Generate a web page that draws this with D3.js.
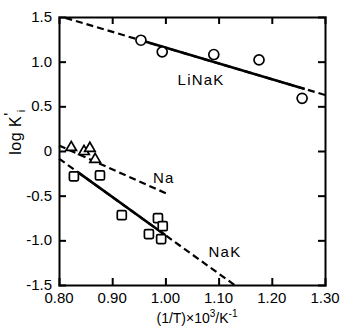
<!DOCTYPE html>
<html><head><meta charset="utf-8">
<script src="https://cdn.jsdelivr.net/npm/d3@7"></script>
<style>body{margin:0;background:#fff}svg{display:block}text{font-family:"Liberation Sans",Arial,sans-serif;fill:#000}</style>
</head><body>
<script>
// Data
const xTicks = [0.80, 0.90, 1.00, 1.10, 1.20, 1.30];
const yTicks = [1.5, 1.0, 0.5, 0, -0.5, -1.0, -1.5];
const liNaKx = [0.954, 0.994, 1.091, 1.176, 1.257];
const liNaKy = [1.24, 1.11, 1.08, 1.02, 0.59];
const naX = [0.823, 0.847, 0.858, 0.868];
const naY = [0.04, -0.005, 0.03, -0.094];
const naKx = [0.828, 0.877, 0.918, 0.986, 0.995, 0.969, 0.992];
const naKy = [-0.284, -0.273, -0.718, -0.752, -0.841, -0.930, -0.986];
// fitted lines: [x0, y0, x1, y1]
const liNaKDash = [0.812, 1.49, 1.30, 0.627];
const liNaKSolid = [0.954, 1.24, 1.262, 0.694];
const naDash = [0.80, 0.062, 1.005, -0.484];
const naKDash = [0.80, -0.085, 1.130, -1.50];
const naKSolid = [0.836, -0.239, 0.999, -0.938];
const labels = [{t:"LiNaK", x:1.067, y:0.742}, {t:"Na", x:0.997, y:-0.362}, {t:"NaK", x:1.112, y:-1.19}];

const W = 345, H = 328;
const m = {l:59, r:20, t:17, b:43};
const svg = d3.select("body").append("svg").attr("width", W).attr("height", H);
const x = d3.scaleLinear().domain([0.80, 1.30]).range([m.l, W - m.r]);
const y = d3.scaleLinear().domain([-1.5, 1.5]).range([H - m.b, m.t]);

const inner = [0.90, 1.00, 1.10, 1.20];
const innerY = [1.0, 0.5, 0, -0.5, -1.0];
// axes
const gB = svg.append("g").attr("transform", `translate(0,${y(-1.5)})`)
  .call(d3.axisBottom(x).tickValues(inner).tickSize(-7).tickFormat(""));
const gT = svg.append("g").attr("transform", `translate(0,${y(1.5)})`)
  .call(d3.axisTop(x).tickValues(inner).tickSize(-7).tickFormat(""));
const gL = svg.append("g").attr("transform", `translate(${x(0.8)},0)`)
  .call(d3.axisLeft(y).tickValues(innerY).tickSize(-7).tickFormat(""));
const gR = svg.append("g").attr("transform", `translate(${x(1.3)},0)`)
  .call(d3.axisRight(y).tickValues(innerY).tickSize(-7).tickFormat(""));
[gB, gT, gL, gR].forEach(g => {
  g.select(".domain").attr("stroke", "#000").attr("stroke-width", 2);
  g.selectAll(".tick line").attr("stroke", "#000").attr("stroke-width", 2);
});
// tick labels
svg.append("g").selectAll("text").data(xTicks).join("text")
  .attr("x", d => x(d)).attr("y", y(-1.5) + 18).attr("text-anchor", "middle")
  .attr("font-size", 15).text(d => d.toFixed(2));
svg.append("g").selectAll("text").data(yTicks).join("text")
  .attr("x", x(0.8) - 7).attr("y", d => y(d) + 5).attr("text-anchor", "end")
  .attr("font-size", 15).text(d => d === 0 ? "0" : (d < 0 ? "-" : "") + Math.abs(d).toFixed(1));
// axis titles
svg.append("text").attr("x", 197).attr("y", 323).attr("text-anchor", "middle").attr("font-size", 14)
  .html('(1/T)×10<tspan dy="-6" font-size="10">3</tspan><tspan dy="6">/K</tspan><tspan dy="-6" font-size="10">-1</tspan>');
svg.append("text").attr("transform", "translate(21,132) rotate(-90)").attr("text-anchor", "middle").attr("font-size", 16)
  .attr("letter-spacing", 0.5)
  .html('log K<tspan dy="-5">\'</tspan><tspan dy="9" font-size="11">i</tspan>');

// lines
function seg(s, dashed, w) {
  svg.append("line").attr("x1", x(s[0])).attr("y1", y(s[1])).attr("x2", x(s[2])).attr("y2", y(s[3]))
    .attr("stroke", "#000").attr("stroke-width", w).attr("stroke-dasharray", dashed ? "7,4" : null);
}
seg(liNaKDash, true, 2.2); seg(liNaKSolid, false, 2.6);
seg(naDash, true, 2.2);
seg(naKDash, true, 2.2); seg(naKSolid, false, 2.6);

// markers
svg.append("g").selectAll("circle").data(liNaKx).join("circle")
  .attr("cx", d => x(d)).attr("cy", (d, i) => y(liNaKy[i])).attr("r", 5)
  .attr("fill", "#fff").attr("stroke", "#000").attr("stroke-width", 1.7);
const tri = d3.symbol().type(d3.symbolTriangle).size(48);
svg.append("g").selectAll("path").data(naX).join("path")
  .attr("d", tri).attr("transform", (d, i) => `translate(${x(d)},${y(naY[i])})`)
  .attr("fill", "#fff").attr("stroke", "#000").attr("stroke-width", 1.7);
svg.append("g").selectAll("rect").data(naKx).join("rect")
  .attr("x", d => x(d) - 4.5).attr("y", (d, i) => y(naKy[i]) - 4.5).attr("width", 9).attr("height", 9).attr("rx", 1.5)
  .attr("fill", "#fff").attr("stroke", "#000").attr("stroke-width", 1.7);

// labels
svg.append("g").selectAll("text").data(labels).join("text")
  .attr("x", d => x(d.x)).attr("y", d => y(d.y)).attr("text-anchor", "middle").attr("font-size", 15)
  .attr("letter-spacing", 1.2).text(d => d.t);
</script>
</body></html>
